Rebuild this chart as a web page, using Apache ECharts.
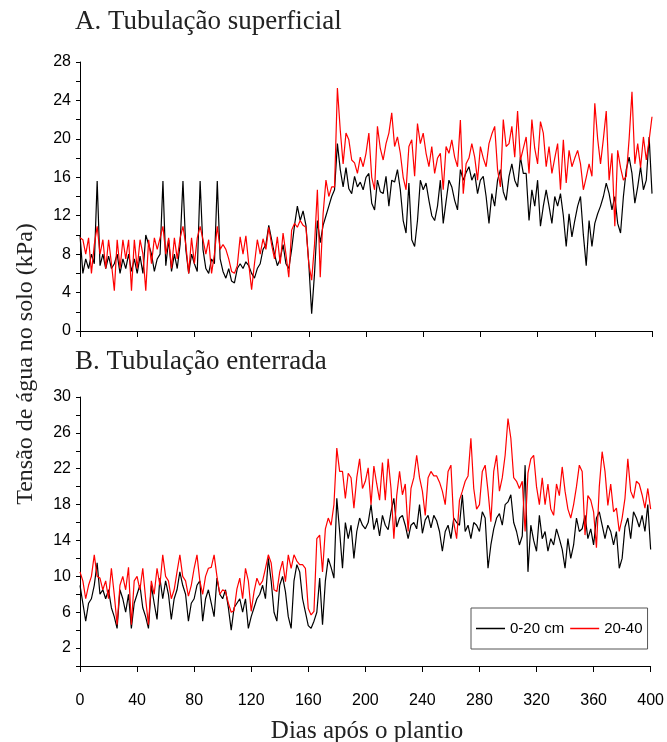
<!DOCTYPE html>
<html>
<head>
<meta charset="utf-8">
<title>Tensão de água no solo</title>
<script src="https://cdn.jsdelivr.net/npm/echarts@6/dist/echarts.min.js"></script>
<style>
    html, body { margin: 0; padding: 0; background: #fff; }
    #grafico { width: 667px; height: 742px; }
</style>
</head>
<body>
<div id="grafico"></div>
<script>
// leituras a cada 2 dias, do dia 0 ao dia 400
var passoDias = 2;

// A. Tubulação superficial
var superficial020 = [
    10, 6, 7.5, 6.5, 8, 7, 15.6, 6.8, 8, 6.5,
    7.8, 6.5, 7, 8, 6, 7.5, 6.5, 8, 6.2, 7.5,
    6, 7.8, 6, 10, 9, 8, 6.2, 7.5, 8, 15.6,
    6.8, 9.5, 6.2, 8, 6.5, 9, 15.6, 8.5, 6, 8,
    7, 6.2, 15.6, 8.5, 6.5, 6, 7.5, 7, 15.6, 7.5,
    6.2, 5.5, 6.5, 5.2, 5, 6.5, 7, 6.5, 7.2, 6.8,
    6, 5.5, 6.5, 7, 8.5, 9, 11, 9.5, 8, 6.8,
    7.5, 9, 7, 6.5, 8.5, 11, 13, 11.5, 12.5, 11,
    7, 1.8, 6, 11.5, 9.2, 11, 12, 13, 14, 14.7,
    19.5, 16.8, 15, 17, 14.8, 14.3, 16.1, 15, 15.5, 14.7,
    16, 16.4, 13.3, 12.6, 15.7, 14.5, 14.3, 16.1, 13, 15.7,
    15.5, 16.8, 14.7, 11.5, 10.2, 15.4, 9.5, 8.8, 11.5, 15.7,
    14.7, 15.4, 13.6, 12, 11.5, 13, 15.7, 11.2, 13.5, 15.7,
    15, 13.6, 12.6, 16.8, 15.7, 16.5, 17.1, 15.7, 16.4, 14.3,
    15.7, 16.1, 14, 11.2, 14.3, 13, 15.7, 16.8, 14.5, 13.6,
    16.1, 17.4, 15.7, 15, 18.1, 16.4, 16.4, 11.5, 14.7, 13,
    15.7, 10.9, 13, 14.7, 13, 11.2, 14, 13, 14.3, 12,
    8.8, 12.2, 9.8, 11.5, 13, 14, 10, 6.8, 11.5, 8.8,
    11.2, 12.2, 13, 14, 15.4, 14.3, 12.6, 14, 11.2, 10.2,
    14, 16.8, 18.1, 16.4, 13.3, 15, 17.1, 14.7, 15.7, 20.2,
    14.3
];
var superficial2040 = [
    9.7, 9.5, 8, 9.7, 6, 9, 10.9, 8, 9.5, 6.5,
    9.5, 7, 4.2, 9.5, 6.5, 9.5, 7.5, 9.5, 4.2, 9.5,
    6.5, 9.5, 8, 4.2, 9.5, 7, 9.7, 8.5, 9.7, 10.9,
    8, 9.7, 6.5, 9.7, 7.5, 9.7, 10.9, 9, 6, 9.7,
    7, 9.7, 10.9, 9.5, 8, 9.5, 6, 8, 10.9, 8.5,
    9, 8.5, 7.5, 6.2, 6, 6.8, 9.8, 8, 9.9, 7,
    4.3, 7, 9.5, 8, 9.6, 8.5, 10.8, 9, 7.5, 9.8,
    7, 10.2, 8, 5.6, 10.5, 11.2, 10.8, 11.5, 11, 10.8,
    7, 5.3, 9, 14.7, 5.6, 12.2, 15.7, 14, 15, 15,
    25.3, 20.9, 17.4, 20.6, 19.9, 17.8, 17.5, 16.4, 18.1, 17.1,
    18.5, 20.6, 16, 14.7, 21.3, 19, 17.8, 19.5, 20.6, 22.7,
    19.2, 20.2, 18.5, 16, 14.7, 19.2, 19.9, 16.1, 21.6, 19.5,
    20.6, 18.5, 17.1, 19.2, 16.4, 18, 18.5, 14.7, 19.2, 18.5,
    19.9, 18.1, 17.1, 21.96, 14.3, 17.4, 18, 19.5, 18.1, 15.7,
    19.2, 18, 17.1, 19.5, 20.5, 21.3, 16.8, 15, 22, 19.2,
    19.5, 21.3, 18.1, 22.9, 17.8, 19, 20.2, 16.4, 22, 19,
    17.4, 21.8, 20.6, 17.1, 19.2, 16.4, 18, 19.5, 14.7, 19.9,
    15.4, 18.8, 17.1, 18, 18.8, 17.4, 14.7, 16, 17.4, 16.1,
    23.7, 20, 17.4, 20, 22.9, 15.7, 18.5, 10.9, 18.8, 17,
    15.7, 16.1, 20, 24.9, 17.4, 19.5, 17, 20.2, 17.8, 19.9,
    22.3
];

// B. Tubulação enterrada
var enterrada020 = [
    9, 7, 5, 7, 7.5, 9, 11.5, 8, 8.5, 7.5,
    8.5, 6.5, 5.5, 4.2, 8.5, 7.5, 6, 8, 4.2, 7,
    8, 9, 6.5, 5.5, 4.2, 9, 7, 5.2, 9.8, 7.5,
    9.5, 8, 5.2, 7.5, 8.5, 10.5, 9, 8, 5, 7,
    7.5, 9, 9.5, 5, 7.5, 8.5, 7, 5.5, 9.8, 8,
    7.5, 8.5, 6.5, 4, 6.5, 7, 7.5, 6, 7.5, 4.2,
    5.5, 6.5, 7.5, 8, 9, 7.5, 12, 9.5, 6, 5,
    9, 10, 8.3, 5.5, 4.2, 9.5, 11.3, 10.5, 7.5, 6,
    4.5, 4.2, 5, 6, 9.8, 4.6, 9.5, 12, 11, 9.8,
    18.7, 15, 10.9, 16, 14.2, 15.7, 12, 15, 16.5, 15.7,
    15.3, 16, 18, 15.2, 16.5, 14.5, 16.8, 15.7, 15.2, 17.2,
    18.7, 15.5, 16.5, 16.8, 15.7, 14.2, 15.7, 16, 15.3, 18,
    14.8, 16.3, 16.8, 15.4, 16.8, 16.2, 15, 12.8, 15, 15.7,
    14.2, 16.5, 16, 15.7, 19.1, 15, 15.7, 14.2, 16, 15.7,
    15, 17.2, 16.5, 10.9, 13.5, 15.3, 16.5, 17, 15.7, 18,
    18.3, 19.1, 16, 15, 13.5, 14.5, 22.4, 10.5, 15.7, 14,
    12.8, 16.8, 14.2, 15, 12.8, 14.2, 13.5, 15.3, 14.2, 13,
    10.9, 14.2, 12, 13.5, 16.5, 15, 15.3, 16.8, 14.2, 15.3,
    13.5, 16.5, 17.2, 15.7, 14.2, 15.7, 15, 13.5, 15, 10.9,
    12, 15.5, 16.5, 14.2, 17.2, 16.5, 15.5, 16.8, 15, 18,
    13
];
var enterrada2040 = [
    10.5, 9.5, 7.5, 9, 10, 12.4, 10, 9.8, 8.5, 9.5,
    7.5, 10.9, 8, 4.6, 9, 10, 8.5, 11, 4.6, 9.5,
    10, 8.5, 10.9, 7.5, 4.6, 9.5, 8, 10.9, 9, 12.4,
    10, 9.5, 7.5, 8.5, 10.5, 12.4, 10, 9.5, 7.8, 9,
    10.9, 12.4, 9.5, 8, 10, 10.9, 11, 12.4, 10, 8,
    8.5, 8.3, 7, 6, 6.2, 8.6, 9.8, 7.5, 10.9, 9.5,
    6.1, 8.3, 9.8, 9, 9.5, 10.9, 12.4, 11.5, 8.5, 8.3,
    10.5, 11.7, 9.4, 12.4, 10.9, 12.4, 11.7, 11.3, 11.3, 10.9,
    6.4, 5.7, 6.1, 14.2, 14.6, 10.5, 15.3, 16.5, 15.7, 18,
    24.3, 21.7, 21.7, 18.7, 21.5, 21, 17.6, 21, 23.1, 19.8,
    20.6, 22.1, 18, 22.3, 20.3, 18.5, 22.7, 18.5, 23.1, 19.8,
    14.2, 19, 21.7, 19.1, 20.3, 15, 19.8, 21, 23.5, 21,
    19.5, 16.8, 21, 21.7, 21.2, 21.2, 20.5, 19.5, 18, 21.7,
    22.4, 16, 14.2, 18.5, 19.5, 20.6, 21.2, 25.4, 19.8, 17.5,
    18, 21.7, 22.4, 19.5, 16.1, 21.7, 23.5, 19.5, 21, 23.5,
    27.6, 25.4, 21, 20.6, 19.8, 20.6, 15, 21.5, 23.1, 23.5,
    20, 18, 21, 18, 20.3, 17.5, 16.8, 20.3, 19, 22.2,
    19.5, 17.5, 16.5, 18, 20, 22.4, 21.7, 14.6, 19, 18.5,
    17.2, 13.2, 20, 23.9, 21.7, 17.9, 20.3, 17.2, 17.6, 15,
    16.5, 18.7, 23.1, 19.5, 18.7, 20.6, 20.3, 19.1, 17.6, 19.8,
    17.5
];

var nomes = ['0-20 cm', '20-40'];
var cores = ['#000000', '#ff0000'];

var fonteEixo = "'Liberation Sans Narrow', 'Arial Narrow', 'Liberation Sans', Arial, sans-serif";
var fonteTitulo = "'Liberation Serif', 'Times New Roman', 'DejaVu Serif', serif";

// junta cada valor com o seu dia
function pares(valores) {
    return valores.map(function (v, i) {
        return [i * passoDias, v];
    });
}

var grafico = echarts.init(document.getElementById('grafico'), null, {renderer: 'canvas'});

function eixoX(idx, comRotulo) {
    return {
        gridIndex: idx,
        type: 'value',
        min: 0,
        max: 400,
        interval: 40,
        axisLine: {show: true, onZero: false, lineStyle: {color: '#000', width: 1}},
        axisTick: {show: true, inside: false, length: 6, lineStyle: {color: '#000', width: 1}},
        axisLabel: {
            show: comRotulo,
            margin: 27,
            color: '#000',
            fontSize: 16,
            fontFamily: fonteEixo
        },
        splitLine: {show: false}
    };
}

function eixoY(idx, max, resto) {
    return {
        gridIndex: idx,
        type: 'value',
        min: 0,
        max: max,
        interval: 2,
        axisLine: {show: true, lineStyle: {color: '#000', width: 1}},
        axisTick: {show: true, inside: false, length: 4, lineStyle: {color: '#000', width: 1}},
        axisLabel: {
            margin: 9,
            color: '#000',
            fontSize: 16,
            fontFamily: fonteEixo,
            formatter: function (v) {
                return (v % 4 === resto) ? String(v) : '';
            }
        },
        splitLine: {show: false}
    };
}

function serie(nome, valores, idx) {
    var cor = cores[nomes.indexOf(nome)];
    return {
        name: nome,
        type: 'line',
        xAxisIndex: idx,
        yAxisIndex: idx,
        data: pares(valores),
        symbol: 'none',
        showSymbol: false,
        smooth: false,
        lineStyle: {color: cor, width: 1.2},
        itemStyle: {color: cor},
        emphasis: {disabled: true}
    };
}

var option = {
    animation: false,
    backgroundColor: '#fff',
    grid: [
        {left: 80, right: 15, top: 62, height: 269},
        {left: 80, right: 15, top: 397, height: 269}
    ],
    xAxis: [eixoX(0, false), eixoX(1, true)],
    yAxis: [eixoY(0, 28, 0), eixoY(1, 30, 2)],
    legend: {
        data: nomes,
        left: 471,
        top: 608,
        width: 190,
        orient: 'horizontal',
        icon: 'rect',
        itemWidth: 29,
        itemHeight: 1.5,
        itemGap: 6,
        padding: [13, 5, 13, 5],
        borderColor: '#555',
        borderWidth: 1,
        borderRadius: 0,
        backgroundColor: '#fff',
        selectedMode: false,
        textStyle: {color: '#000', fontSize: 15, fontFamily: fonteEixo}
    },
    graphic: [
        {
            type: 'text', left: 75, top: 8,
            style: {text: 'A. Tubulação superficial', font: '27px ' + fonteTitulo, fill: '#222'}
        },
        {
            type: 'text', left: 75, top: 348,
            style: {text: 'B. Tubulação enterrada', font: '27px ' + fonteTitulo, fill: '#222'}
        },
        {
            type: 'text', x: 26, y: 364, rotation: Math.PI / 2,
            style: {
                text: 'Tensão de água no solo (kPa)', font: '24px ' + fonteTitulo, fill: '#222',
                align: 'center', verticalAlign: 'middle'
            }
        },
        {
            type: 'text', x: 367, y: 731,
            style: {
                text: 'Dias após o plantio', font: '25px ' + fonteTitulo, fill: '#222',
                align: 'center', verticalAlign: 'middle'
            }
        }
    ],
    series: [
        serie('0-20 cm', superficial020, 0),
        serie('20-40', superficial2040, 0),
        serie('0-20 cm', enterrada020, 1),
        serie('20-40', enterrada2040, 1)
    ]
};

grafico.setOption(option);
</script>
</body>
</html>
